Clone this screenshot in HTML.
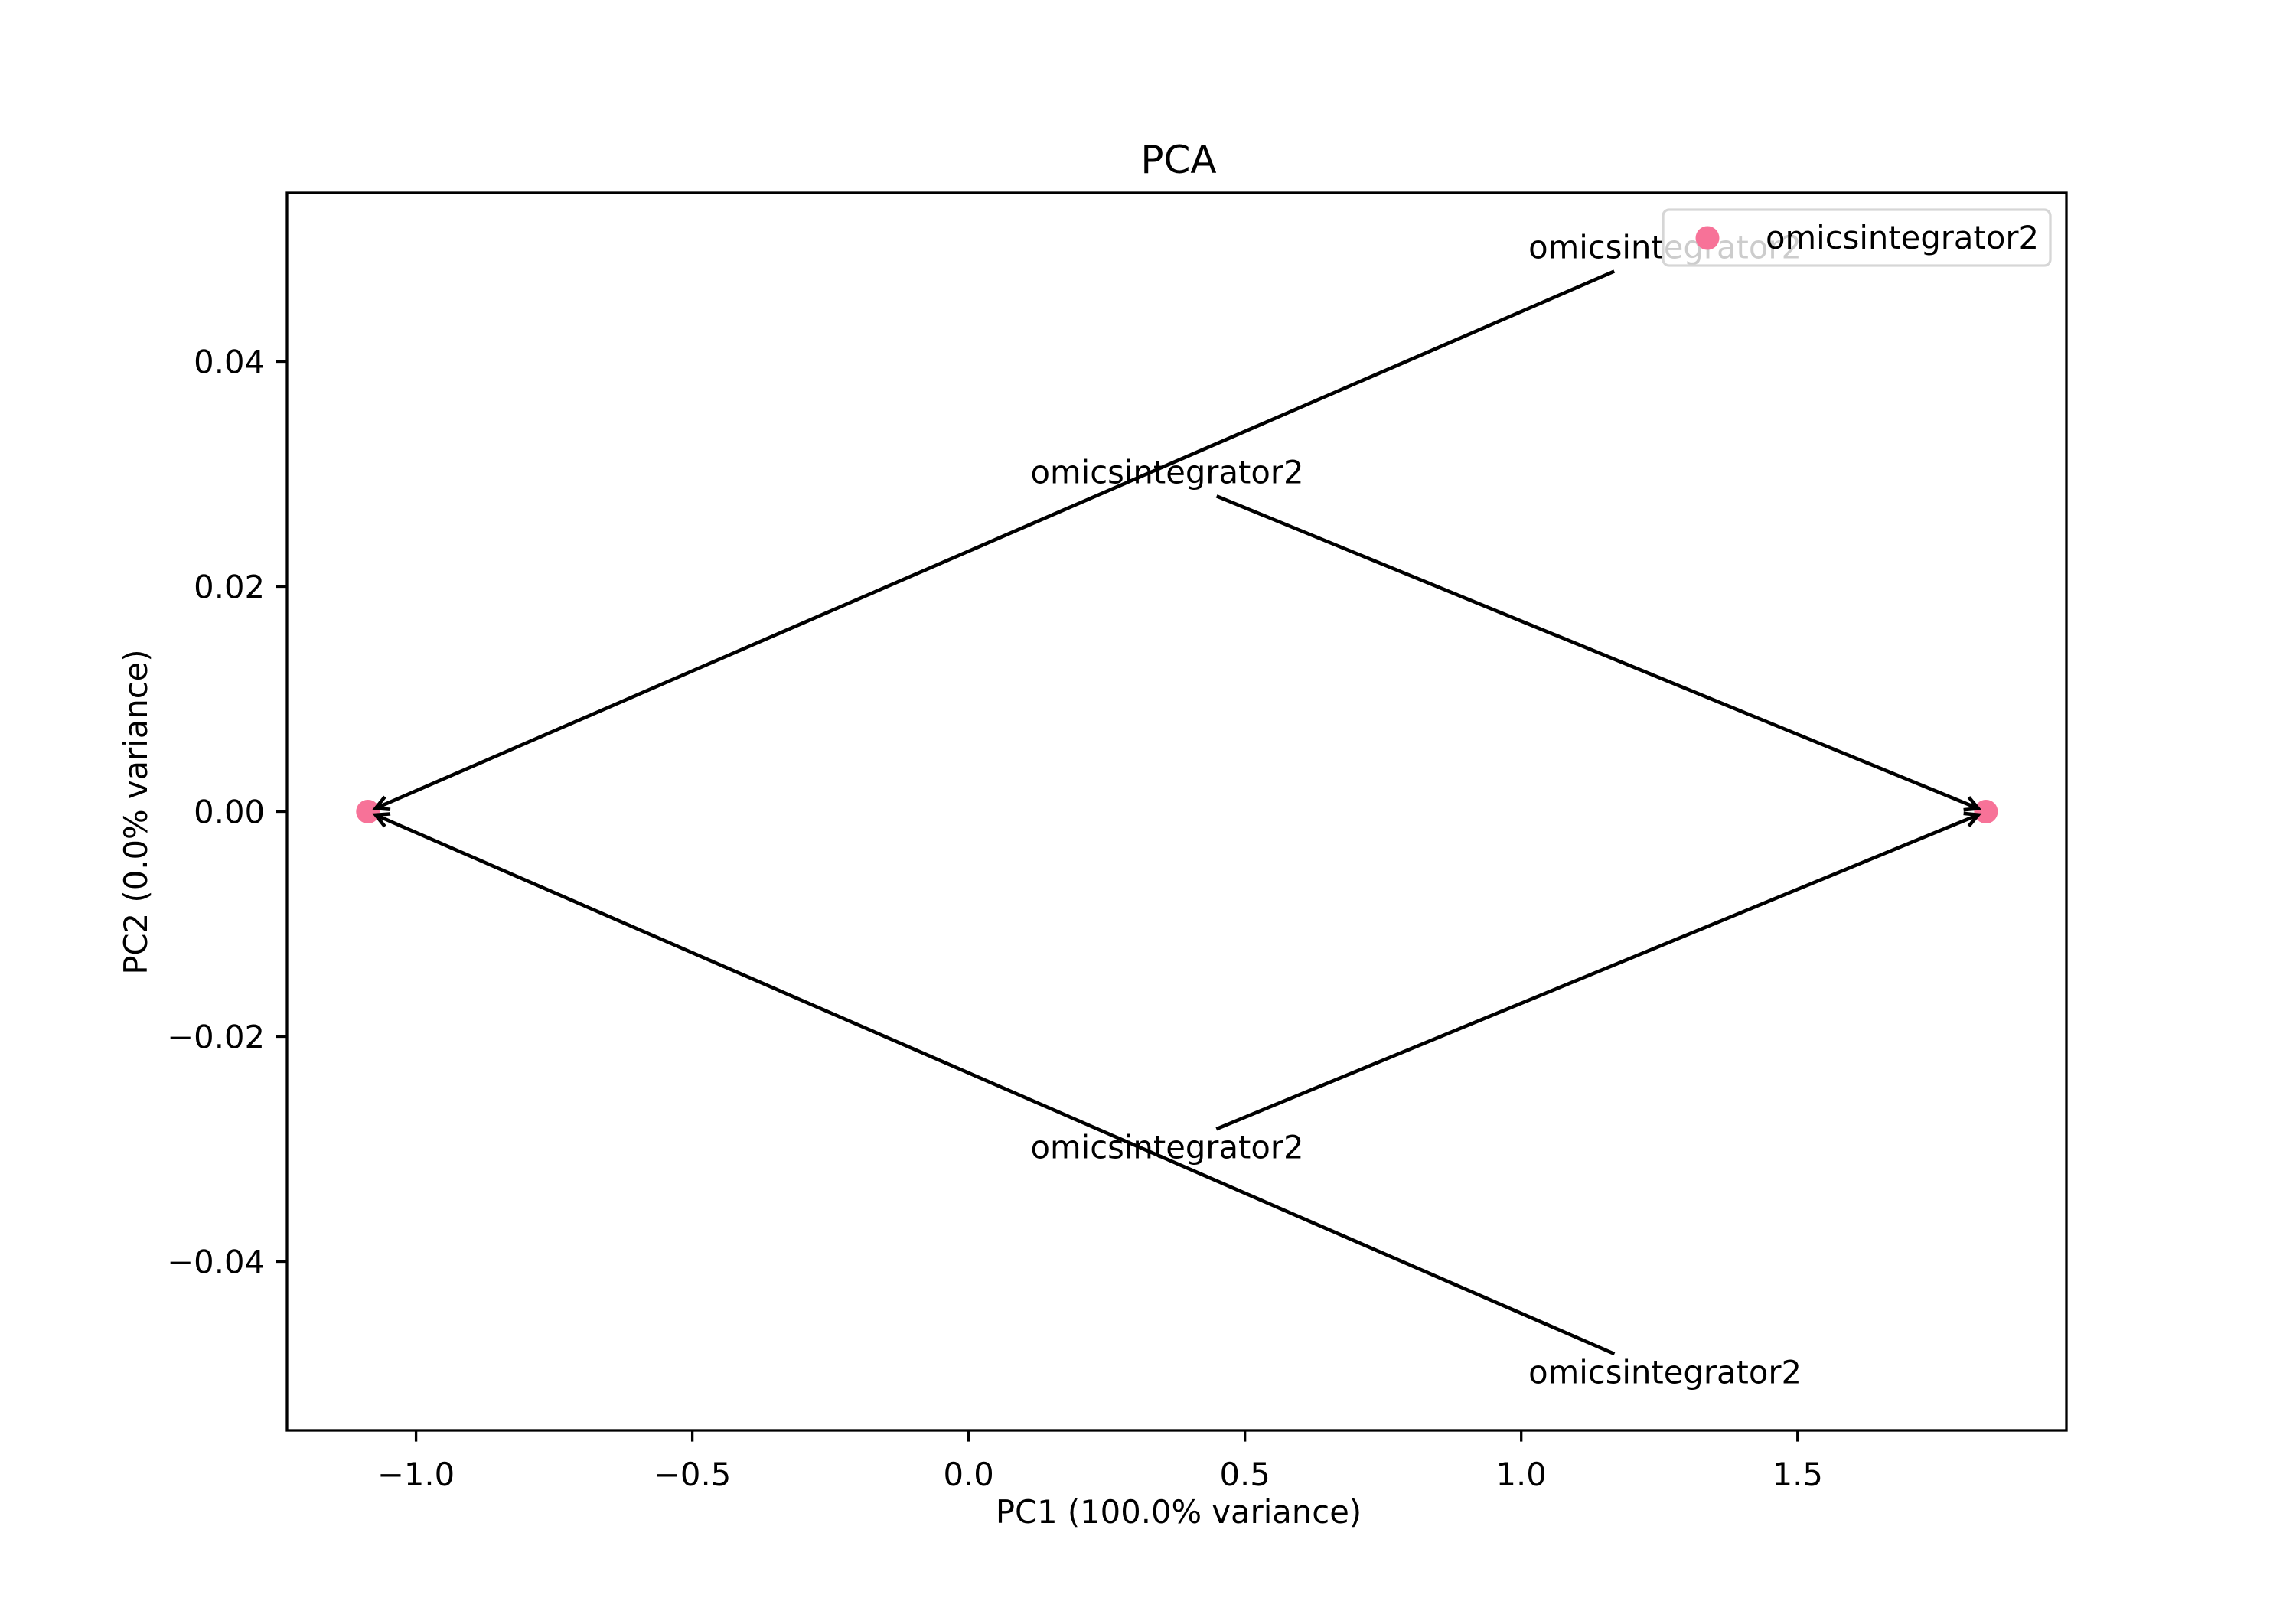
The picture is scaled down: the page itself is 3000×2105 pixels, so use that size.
<!DOCTYPE html>
<html><head><meta charset="utf-8"><style>
html,body{margin:0;padding:0;background:#fff}
svg text{font-family:"DejaVu Sans","Liberation Sans",sans-serif;fill:#000}
</style></head><body>
<svg id="chart" width="3000" height="2100" xmlns="http://www.w3.org/2000/svg">
<rect x="0" y="0" width="3000" height="2100" fill="#fff"/>
<text x="1540" y="226" font-size="50" text-anchor="middle">PCA</text>
<text x="1540" y="1990" font-size="41.7" text-anchor="middle">PC1 (100.0% variance)</text>
<text transform="translate(192,1061) rotate(-90)" font-size="41.7" text-anchor="middle">PC2 (0.0% variance)</text>
<g id="plot"></g>
</svg>
<script>
const pointX = [-1.087, 1.841];
const pointY = [0.0, 0.0];
const labelText = ["omicsintegrator2","omicsintegrator2","omicsintegrator2","omicsintegrator2"];
const labelX = [1.013, 0.112, 0.112, 1.013];
const labelY = [0.0492, 0.0292, -0.0308, -0.0508];
const labelTarget = [0, 1, 1, 0];
const xTicks = [-1.0, -0.5, 0.0, 0.5, 1.0, 1.5];
const xTickLabels = ["\u22121.0","\u22120.5","0.0","0.5","1.0","1.5"];
const yTicks = [0.04, 0.02, 0.0, -0.02, -0.04];
const yTickLabels = ["0.04","0.02","0.00","\u22120.02","\u22120.04"];
const legendLabels = ["omicsintegrator2"];

const L=375,R=2700,T=252,B=1869;
const xmin=-1.2335,xmax=1.9865,ymin=-0.055,ymax=0.055;
const X=v=>L+(v-xmin)/(xmax-xmin)*(R-L);
const Y=v=>B-(v-ymin)/(ymax-ymin)*(B-T);
const NS="http://www.w3.org/2000/svg";
const g=document.getElementById('plot');
function mk(tag,attrs,parent){const e=document.createElementNS(NS,tag);for(const k in attrs)e.setAttribute(k,attrs[k]);(parent||g).appendChild(e);return e;}

xTicks.forEach((v,i)=>{
  const t=mk('line',{x1:X(v),x2:X(v),y1:B,y2:B+14.6,stroke:'#000','stroke-width':3.3});
  
  
  const tx=mk('text',{x:X(v),y:B+72,'font-size':41.7,'text-anchor':'middle'});
  tx.textContent=xTickLabels[i];
  
  
});
yTicks.forEach((v,i)=>{
  const t=mk('line',{x1:L-14.6,x2:L,y1:Y(v),y2:Y(v),stroke:'#000','stroke-width':3.3});
  
  
  const tx=mk('text',{x:L-29,y:Y(v)+15,'font-size':41.7,'text-anchor':'end'});
  tx.textContent=yTickLabels[i];
  
  
});

pointX.forEach((v,i)=>{
  const c=mk('circle',{cx:X(v),cy:Y(pointY[i]),r:15.5,fill:'#f77298'});
  
  
});

const TW=352,asc=33,desc=12;
labelText.forEach((s,i)=>{
  const tx=mk('text',{x:X(labelX[i]),y:Y(labelY[i]),'font-size':41.7});
  tx.textContent=s;
  
  
  const cx=X(labelX[i])+TW/2, cy=Y(labelY[i])-(asc-desc)/2;
  const hh=(asc+desc)/2+2;
  const j=labelTarget[i];
  const px=X(pointX[j]), py=Y(pointY[j]);
  const dx=px-cx, dy=py-cy, len=Math.hypot(dx,dy), ux=dx/len, uy=dy/len;
  let t0=Math.min(Math.abs(hh/uy)||1e9, Math.abs((TW/2)/ux)||1e9)+8;
  const sx=cx+ux*t0, sy=cy+uy*t0;
  const ex=px-ux*11, ey=py-uy*11;
  const ln=mk('line',{x1:sx,y1:sy,x2:ex,y2:ey,stroke:'#000','stroke-width':4.6});
  
  
  const hl=17,hw=9, bx=ex-ux*hl, by=ey-uy*hl;
  const hd=mk('polyline',{points:`${bx-uy*hw},${by+ux*hw} ${ex},${ey} ${bx+uy*hw},${by-ux*hw}`,fill:'none',stroke:'#000','stroke-width':4.6,'stroke-linejoin':'miter'});
  
  
});

const fr=mk('rect',{x:L,y:T,width:R-L,height:B-T,fill:'none',stroke:'#000','stroke-width':3.3});



const lg=mk('g',{});


const lb=mk('rect',{x:2173,y:274,width:506,height:73,rx:8,fill:'#fff','fill-opacity':0.8,stroke:'#d6d6d6','stroke-width':3.3},lg);


legendLabels.forEach((s,i)=>{
  const m=mk('circle',{cx:2231,cy:311+i*50,r:15.5,fill:'#f77298'},lg);
  
  
  const t=mk('text',{x:2307,y:325+i*50,'font-size':41.7},lg);
  t.textContent=s;
  
  
});
</script>
</body></html>
